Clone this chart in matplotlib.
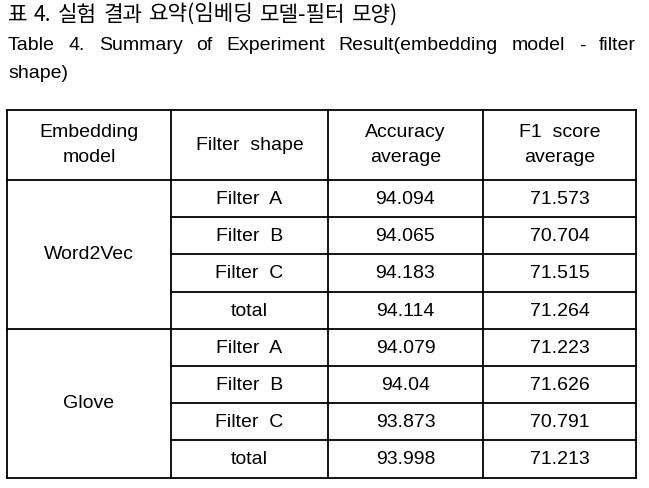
import matplotlib
matplotlib.use("Agg")
import matplotlib.pyplot as plt

# table data
title_ko = "표 4. 실험 결과 요약(임베딩 모델-필터 모양)"
title_en = ["Table 4. Summary of Experiment Result(embedding model - filter", "shape)"]
header = ["Embedding\nmodel", "Filter  shape", "Accuracy\naverage", "F1  score\naverage"]
models = ["Word2Vec", "Glove"]
filters = ["Filter  A", "Filter  B", "Filter  C", "total"]
accuracy = [[94.094, 94.065, 94.183, 94.114],
            [94.079, 94.04, 93.873, 93.998]]
f1_score = [[71.573, 70.704, 71.515, 71.264],
            [71.223, 71.626, 70.791, 71.213]]

plt.rcParams['font.family'] = ['Liberation Sans', 'Noto Sans CJK KR', 'DejaVu Sans']
fs = 14

fig = plt.figure(figsize=(6.49, 4.88), dpi=100)
ax = fig.add_axes([0, 0, 1, 1])
ax.set_xlim(0, 649)
ax.set_ylim(488, 0)
ax.axis('off')
fig.canvas.draw()
r = fig.canvas.get_renderer()
inv = ax.transData.inverted()


def justify(line, y, left, right, size=fs, **kw):
    # spread the words of a line between left and right
    words = line.split()
    objs = [ax.text(0, y, w, fontsize=size, va='center', ha='left', **kw) for w in words]
    widths = []
    for t in objs:
        bb = t.get_window_extent(r)
        widths.append(inv.transform((bb.x1, bb.y0))[0] - inv.transform((bb.x0, bb.y0))[0])
    gap = (right - left - sum(widths)) / (len(words) - 1)
    x = left
    for t, w in zip(objs, widths):
        t.set_x(x)
        x += w + gap


# caption
justify(title_ko, 15, 8, 398, size=15.3, family=['Noto Sans CJK KR', 'Liberation Sans'])
justify(title_en[0], 46, 8, 636)
ax.text(8, 74, title_en[1], fontsize=fs, va='center', ha='left')

# grid geometry
cols = [7, 171, 328, 483, 636]
top, head_bot, row_h = 110, 180, 37.2
n = len(filters)
lw = 1.3

def hline(y, x0, x1):
    ax.plot([x0, x1], [y, y], color='black', lw=lw, solid_capstyle='projecting')

def vline(x, y0, y1):
    ax.plot([x, x], [y0, y1], color='black', lw=lw, solid_capstyle='projecting')

bottom = head_bot + row_h * n * len(models)
hline(top, cols[0], cols[-1])
hline(head_bot, cols[0], cols[-1])
for c in cols:
    vline(c, top, bottom)

for i, h in enumerate(header):
    ax.text((cols[i] + cols[i + 1]) / 2, (top + head_bot) / 2, h, fontsize=fs,
            ha='center', va='center', linespacing=1.65)

for m, model in enumerate(models):
    y0 = head_bot + m * n * row_h
    ax.text((cols[0] + cols[1]) / 2, y0 + n * row_h / 2, model, fontsize=fs,
            ha='center', va='center')
    for k in range(n):
        yc = y0 + (k + 0.5) * row_h + 1
        vals = [filters[k], str(accuracy[m][k]), str(f1_score[m][k])]
        for j, v in enumerate(vals):
            ax.text((cols[j + 1] + cols[j + 2]) / 2, yc, v, fontsize=fs,
                    ha='center', va='center')
        yb = y0 + (k + 1) * row_h
        if k < n - 1:
            hline(yb, cols[1], cols[-1])
        else:
            hline(yb, cols[0], cols[-1])

fig.savefig("out.png", dpi=100)
